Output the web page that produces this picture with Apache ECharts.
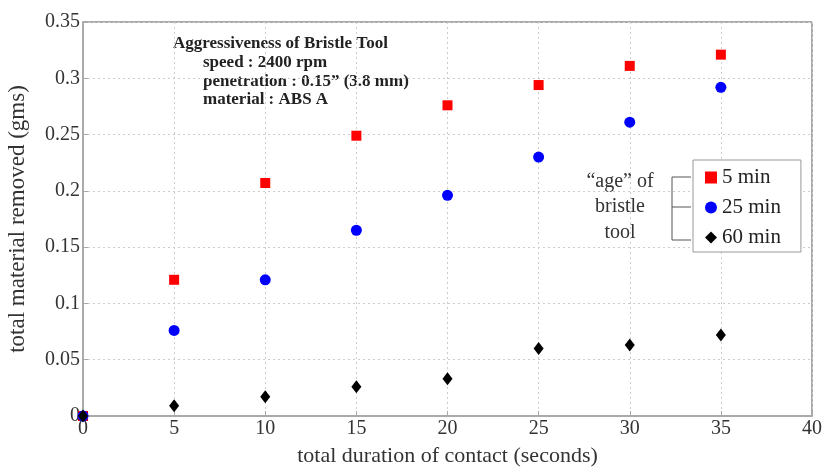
<!DOCTYPE html>
<html><head><meta charset="utf-8">
<script src="https://cdn.jsdelivr.net/npm/echarts@6/dist/echarts.min.js"></script>
<style>html,body{margin:0;padding:0;background:#fff}#c{width:823px;height:468px}</style>
</head><body><div id="c"></div>
<script>
const xValues = [0, 5, 10, 15, 20, 25, 30, 35];
const s5min = [0, 0.121, 0.207, 0.249, 0.276, 0.294, 0.311, 0.321];
const s25min = [0, 0.076, 0.121, 0.165, 0.196, 0.230, 0.261, 0.292];
const s60min = [0, 0.009, 0.017, 0.026, 0.033, 0.060, 0.063, 0.072];
const seriesNames = ['5 min', '25 min', '60 min'];
const titleLines = ['Aggressiveness of Bristle Tool', 'speed : 2400 rpm', 'penetration : 0.15\u201D (3.8 mm)', 'material : ABS A'];
const ageLines = ['\u201Cage\u201D of', 'bristle', 'tool'];

const font = 'Liberation Serif';
const pair = a => xValues.map((x, i) => [x, a[i]]);
const chart = echarts.init(document.getElementById('c'));
const tfont = 'bold 17px "Liberation Serif"';
const afont = '20px "Liberation Serif"';
const axisGray = '#aaa';
chart.setOption({
  animation: false,
  textStyle: { fontFamily: font },
  grid: { left: 83, right: 11, top: 22, bottom: 52, containLabel: false, outerBoundsMode: 'none' },
  xAxis: {
    type: 'value', min: 0, max: 40, interval: 5,
    name: 'total duration of contact (seconds)', nameLocation: 'middle', nameGap: 29,
    nameTextStyle: { fontFamily: font, fontSize: 22, color: '#333' },
    axisLine: { show: true, lineStyle: { color: axisGray, width: 2 } },
    axisTick: { show: true, inside: true, length: 5, lineStyle: { color: axisGray } },
    axisLabel: { fontFamily: font, fontSize: 20, color: '#333', margin: 3 },
    splitLine: { show: true, lineStyle: { color: '#ccc', type: [2, 3] } }
  },
  yAxis: {
    type: 'value', min: 0, max: 0.35, interval: 0.05,
    name: 'total material removed (gms)', nameLocation: 'middle', nameGap: 54,
    nameTextStyle: { fontFamily: font, fontSize: 23, color: '#333' },
    axisLine: { show: true, lineStyle: { color: axisGray, width: 2 } },
    axisTick: { show: true, inside: true, length: 5, lineStyle: { color: axisGray } },
    axisLabel: { fontFamily: font, fontSize: 20, color: '#333', margin: 3,
      formatter: v => (Math.round(v * 100) / 100).toString() },
    splitLine: { show: true, lineStyle: { color: '#ccc', type: [2, 3] } }
  },
  legend: {
    orient: 'vertical', left: 693, top: 160,
    backgroundColor: '#fff', borderColor: '#999', borderWidth: 1,
    padding: [7, 20, 4, 12], itemGap: 9, itemWidth: 12, itemHeight: 12,
    textStyle: { fontFamily: font, fontSize: 21, color: '#222' },
    data: seriesNames
  },
  series: [
    { name: seriesNames[0], type: 'scatter', symbol: 'rect', symbolSize: 10,
      itemStyle: { color: '#ff0000', opacity: 1 }, data: pair(s5min), z: 2 },
    { name: seriesNames[1], type: 'scatter', symbol: 'circle', symbolSize: 11,
      itemStyle: { color: '#0000ff', opacity: 1 }, data: pair(s25min), z: 3 },
    { name: seriesNames[2], type: 'scatter', symbol: 'diamond', symbolSize: [10, 13],
      itemStyle: { color: '#000000', opacity: 1 }, data: pair(s60min), z: 4 }
  ],
  graphic: [
    { type: 'line', shape: { x1: 812, y1: 22, x2: 812, y2: 416 }, style: { stroke: axisGray, lineWidth: 2 } },
    { type: 'line', shape: { x1: 83, y1: 22, x2: 812, y2: 22 }, style: { stroke: axisGray, lineWidth: 2 } },
    { type: 'text', x: 173, y: 44, style: { text: titleLines[0], font: tfont, fill: '#222', verticalAlign: 'middle' } },
    { type: 'text', x: 203, y: 63, style: { text: titleLines[1], font: tfont, fill: '#222', verticalAlign: 'middle' } },
    { type: 'text', x: 203, y: 82, style: { text: titleLines[2], font: tfont, fill: '#222', verticalAlign: 'middle' } },
    { type: 'text', x: 203, y: 100, style: { text: titleLines[3], font: tfont, fill: '#222', verticalAlign: 'middle' } },
    { type: 'text', x: 620, y: 182, style: { text: ageLines[0], font: afont, fill: '#333', align: 'center', verticalAlign: 'middle' } },
    { type: 'text', x: 620, y: 207, style: { text: ageLines[1], font: afont, fill: '#333', align: 'center', verticalAlign: 'middle' } },
    { type: 'text', x: 620, y: 233, style: { text: ageLines[2], font: afont, fill: '#333', align: 'center', verticalAlign: 'middle' } },
    { type: 'polyline', shape: { points: [[691, 177], [672, 177], [672, 240], [691, 240]] }, style: { stroke: '#555', lineWidth: 1, fill: null } },
    { type: 'line', shape: { x1: 672, y1: 207, x2: 691, y2: 207 }, style: { stroke: '#555', lineWidth: 1 } }
  ]
});
</script></body></html>
